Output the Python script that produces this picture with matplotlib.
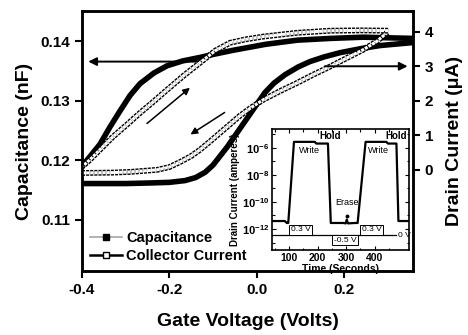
import numpy as np
import matplotlib.pyplot as plt
from matplotlib.lines import Line2D
import matplotlib.patheffects as pe

plt.rcParams['font.family'] = ['Liberation Sans', 'DejaVu Sans']
plt.rcParams['font.weight'] = 'bold'
plt.rcParams['axes.labelweight'] = 'bold'
plt.rcParams['mathtext.fontset'] = 'custom'
plt.rcParams['mathtext.rm'] = 'Liberation Sans'
plt.rcParams['mathtext.bf'] = 'Liberation Sans:bold'

# Capacitance loop (nF), forward and reverse sweep
v_cap_fwd = [-0.40, -0.30, -0.244, -0.20, -0.164, -0.14, -0.118, -0.10, -0.084, -0.067, -0.050,
             -0.032, -0.015, 0.002, 0.019, 0.040, 0.065, 0.095, 0.122, 0.155, 0.191, 0.240, 0.283, 0.358]
cap_fwd = [0.1161, 0.1161, 0.1162, 0.1163, 0.1166, 0.1171, 0.1180, 0.1192, 0.1207, 0.1223, 0.1241,
           0.1260, 0.1278, 0.1296, 0.1314, 0.1330, 0.1344, 0.1357, 0.1366, 0.1374, 0.1381, 0.1388, 0.1393, 0.1398]
v_cap_rev = [0.358, 0.30, 0.244, 0.17, 0.093, 0.02, -0.054, -0.10, -0.130, -0.17, -0.205, -0.235,
             -0.267, -0.29, -0.313, -0.336, -0.359, -0.38, -0.40]
cap_rev = [0.1405, 0.1406, 0.1407, 0.1405, 0.1402, 0.1395, 0.1385, 0.1378, 0.1373, 0.1367, 0.1359, 0.1347,
           0.1329, 0.1309, 0.1283, 0.1256, 0.1227, 0.1208, 0.1190]

# Drain current loop (uA)
v_cur_fwd = [-0.40, -0.33, -0.29, -0.228, -0.20, -0.175, -0.15, -0.13, -0.107, -0.084, -0.061, -0.038,
             -0.012, 0.015, 0.055, 0.093, 0.13, 0.168, 0.205, 0.244, 0.275, 0.301]
cur_fwd = [-0.09, -0.08, -0.06, 0.0, 0.08, 0.23, 0.40, 0.58, 0.82, 1.07, 1.32, 1.57,
           1.81, 2.03, 2.29, 2.52, 2.76, 2.99, 3.23, 3.48, 3.72, 4.0]
v_cur_rev = [0.301, 0.24, 0.168, 0.093, 0.015, -0.025, -0.061, -0.095, -0.130, -0.168, -0.205, -0.236,
             -0.267, -0.298, -0.329, -0.356, -0.382, -0.40]
cur_rev = [4.03, 4.04, 4.03, 3.97, 3.86, 3.78, 3.68, 3.45, 3.10, 2.72, 2.32, 1.98,
           1.65, 1.30, 0.96, 0.62, 0.29, 0.09]

# Inset: drain current vs time
t_inset = [40, 85, 92, 97, 117, 190, 195, 236, 246, 290, 298, 302, 306, 330, 340, 368, 441, 446, 476, 483, 520]
i_inset = [3.9e-12, 3.9e-12, 2.8e-12, 2.8e-12, 2.8e-6, 2.8e-6, 2.1e-6, 2.1e-6, 2.8e-12, 2.8e-12, 2.6e-12,
           5e-12, 2.6e-12, 2.8e-12, 2.8e-12, 2.8e-6, 2.8e-6, 2.1e-6, 2.1e-6, 3.9e-12, 3.9e-12]
volt_t = [40, 476]
volt_level = [3.6e-13, 3.6e-13]
volt_labels = ['0.3 V', '-0.5 V', '0.3 V']
volt_label_t = [140, 296, 389]
volt_label_y = [8.5e-13, 1.5e-13, 8.5e-13]

fig = plt.figure(figsize=(4.68, 3.35), dpi=100)
ax = fig.add_axes([0.1752, 0.191, 0.7073, 0.7761])
ax2 = ax.twinx()

ax.plot(v_cap_fwd, cap_fwd, color='black', lw=4, solid_capstyle='butt', zorder=3)
ax.plot(v_cap_rev, cap_rev, color='black', lw=4, solid_capstyle='butt', zorder=3)

# open-square look: black band with a broken white core
open_fx = [pe.Stroke(linewidth=4.2, foreground='black'), pe.Normal()]
ax2.plot(v_cur_fwd, cur_fwd, color='white', lw=2.2, dashes=(1.0, 0.35), path_effects=open_fx)
ax2.plot(v_cur_rev, cur_rev, color='white', lw=2.2, dashes=(1.0, 0.35), path_effects=open_fx)

ax.set_xlim(-0.4, 0.358)
ax.set_ylim(0.1014, 0.1451)
ax2.set_ylim(-2.93, 4.6)
ax.set_xticks([-0.4, -0.2, 0.0, 0.2])
ax.set_xticklabels(['-0.4', '-0.2', '0.0', '0.2'])
ax.set_yticks([0.11, 0.12, 0.13, 0.14])
ax2.set_yticks([0, 1, 2, 3, 4])
for a in (ax, ax2):
    a.tick_params(direction='out', length=5, width=1.5, labelsize=11)
    for s in a.spines.values():
        s.set_linewidth(1.8)

ax.set_xlabel('Gate Voltage (Volts)', fontsize=14, labelpad=12)
ax.set_ylabel('Capacitance (nF)', fontsize=14, labelpad=5)
ax2.set_ylabel('Drain Current (μA)', fontsize=14, labelpad=9, rotation=90)

# direction arrows
arrow_kw = dict(arrowstyle='-|>', color='black', lw=1.4, mutation_scale=12)
ax.annotate('', xy=(-0.392, 0.1366), xytext=(-0.12, 0.1366), arrowprops=arrow_kw)
ax2.annotate('', xy=(0.352, 3.0), xytext=(0.15, 3.0), arrowprops=arrow_kw)
ax.annotate('', xy=(-0.148, 0.1325), xytext=(-0.256, 0.1259),
            arrowprops=dict(arrowstyle='-|>', color='black', lw=1.1, mutation_scale=10))
ax.annotate('', xy=(-0.157, 0.1241), xytext=(-0.068, 0.1283),
            arrowprops=dict(arrowstyle='-|>', color='black', lw=1.1, mutation_scale=10))

handles = [Line2D([], [], color='0.65', lw=1.2, marker='s', mfc='black', mec='black', ms=5),
           Line2D([], [], color='black', lw=1.8, marker='s', mfc='white', mec='black', ms=5)]
ax.legend(handles, ['Capacitance', 'Collector Current'], loc='lower left', frameon=False,
          fontsize=10.5, handlelength=2.2, handletextpad=0.3, borderaxespad=0.15, labelspacing=0.25)

# inset
axi = fig.add_axes([0.5812, 0.2537, 0.2927, 0.3612])
axi.semilogy(t_inset, i_inset, color='black', lw=1.6)
axi.plot(volt_t, volt_level, color='black', lw=0.9)
for lab, tx, ty in zip(volt_labels, volt_label_t, volt_label_y):
    axi.text(tx, ty, lab, fontsize=6, fontweight='normal', ha='center', va='center',
             bbox=dict(boxstyle='square,pad=0.15', fc='white', ec='black', lw=0.7))
axi.text(volt_t[1] + 4, volt_level[0], '0 V', fontsize=6, fontweight='normal', va='center', ha='left')
axi.plot([302], [9e-12], 'o', color='black', ms=1.8)
axi.text(302, 4e-11, 'Erase', fontsize=6.5, fontweight='normal', ha='center', va='bottom')
axi.text(135, 7e-7, 'Write', fontsize=6.5, fontweight='normal', ha='left', va='center')
axi.text(375, 7e-7, 'Write', fontsize=6.5, fontweight='normal', ha='left', va='center')
axi.text(205, 7e-6, 'Hold', fontsize=7, ha='left', va='center')
axi.text(512, 7e-6, 'Hold', fontsize=7, ha='right', va='center')

axi.set_xlim(40, 520)
axi.set_ylim(2.8e-14, 2.5e-5)
axi.set_xticks([100, 200, 300, 400])
axi.set_xticks([50, 150, 250, 350, 450], minor=True)
axi.set_yticks([1e-6, 1e-8, 1e-10, 1e-12])
axi.set_yticklabels([r'$\mathbf{10^{-6}}$', r'$\mathbf{10^{-8}}$', r'$\mathbf{10^{-10}}$', r'$\mathbf{10^{-12}}$'])
axi.set_yticks([1e-5, 1e-7, 1e-9, 1e-11, 1e-13], minor=True)
axi.yaxis.set_minor_formatter(plt.NullFormatter())
axi.tick_params(which='both', direction='in', top=True, right=True, width=0.8)
axi.tick_params(which='major', length=3, labelsize=8, pad=2)
axi.tick_params(which='minor', length=1.8)
axi.tick_params(axis='x', labelsize=7.5)
for s in axi.spines.values():
    s.set_linewidth(1.2)
axi.set_xlabel('Time (Seconds)', fontsize=7.5, labelpad=1)
axi.set_ylabel('Drain Current (amperes)', fontsize=7, labelpad=1)

fig.savefig('out.png', dpi=100)
